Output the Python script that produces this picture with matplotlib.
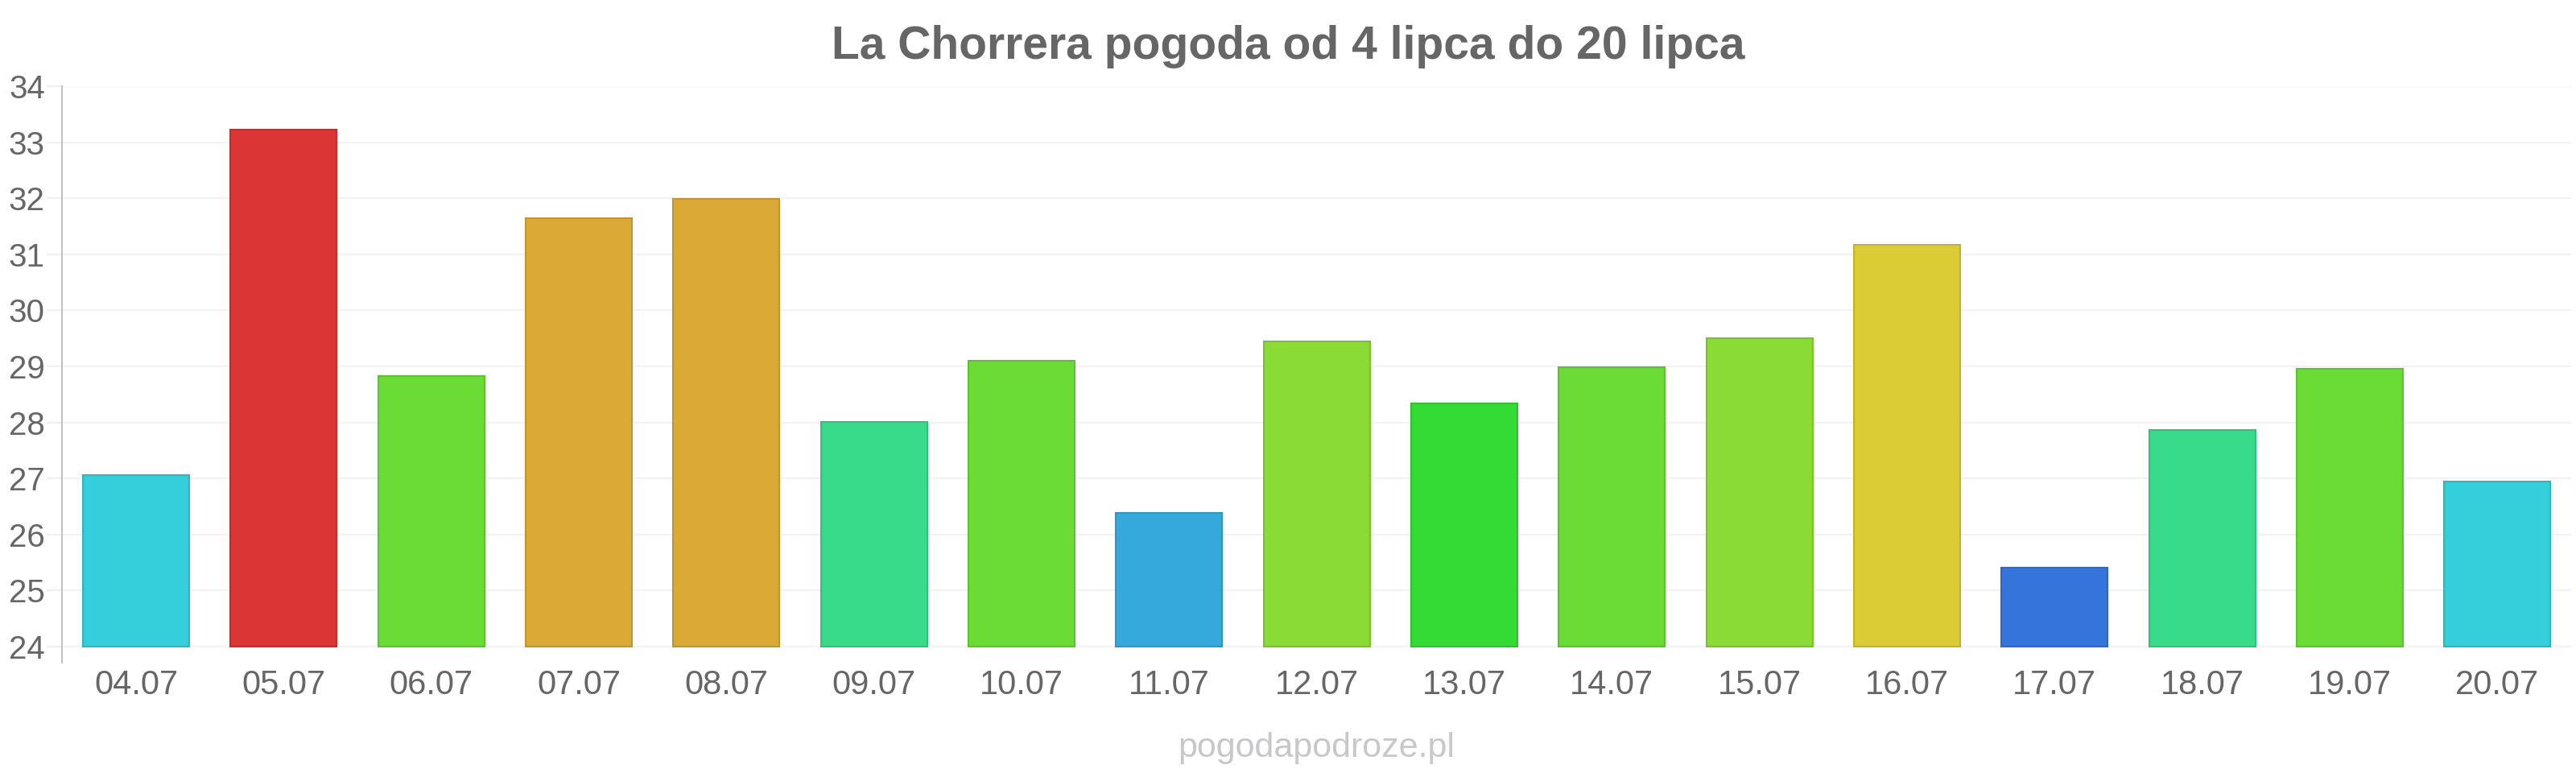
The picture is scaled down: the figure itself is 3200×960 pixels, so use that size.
import matplotlib
matplotlib.use("Agg")
import matplotlib.pyplot as plt
import matplotlib.colors as mcolors

plt.rcParams['font.family'] = ['Liberation Sans', 'DejaVu Sans']

title = "La Chorrera pogoda od 4 lipca do 20 lipca"
days = ["04.07", "05.07", "06.07", "07.07", "08.07", "09.07", "10.07", "11.07", "12.07",
        "13.07", "14.07", "15.07", "16.07", "17.07", "18.07", "19.07", "20.07"]
temps = [27.06, 33.22, 28.83, 31.64, 31.99, 28.01, 29.10, 26.38, 29.44,
         28.34, 28.98, 29.51, 31.17, 25.41, 27.87, 28.96, 26.95]
bar_colors = ["#35CEDB", "#DB3535", "#6BDB35", "#DBA935", "#DBA935", "#38DB8A", "#6BDB35",
              "#35A9DB", "#8ADB35", "#35DB35", "#6BDB35", "#8ADB35", "#DBCB35", "#3575DB",
              "#38DB8A", "#6BDB35", "#35CEDB"]
y_ticks = [24, 25, 26, 27, 28, 29, 30, 31, 32, 33, 34]
watermark = "pogodapodroze.pl"

W, H = 3200, 960
fig = plt.figure(figsize=(W / 100, H / 100), dpi=100)
ax = fig.add_axes([77.3 / W, 1 - 823 / H, (3194 - 77.3) / W, (823 - 107) / H])

def darker(c, f=0.88):
    r, g, b = mcolors.to_rgb(c)
    return (r * f, g * f, b * f)

x = list(range(len(days)))
base = y_ticks[0]
heights = [t - base for t in temps]
ax.bar(x, heights, bottom=base, width=0.72, color=bar_colors,
       edgecolor=[darker(c) for c in bar_colors], linewidth=1.5, zorder=3)

ax.set_xlim(-0.5, len(days) - 0.5)
ax.set_ylim(base - 20 / 69.6, y_ticks[-1])
ax.set_yticks(y_ticks)
ax.set_xticks(x)
ax.set_xticklabels(days)

ax.grid(axis='y', color='#f3f3f3', linewidth=1.6, zorder=0)
ax.grid(axis='x', visible=False)
for s in ['top', 'right', 'bottom']:
    ax.spines[s].set_visible(False)
ax.spines['left'].set_color('#bbbbbb')
ax.spines['left'].set_linewidth(1.3)

ax.tick_params(axis='y', length=14, width=1.6, color='#f0f0f0', pad=1.5,
               labelsize=29, labelcolor='#666666')
ax.tick_params(axis='x', length=0, pad=6, labelsize=30, labelcolor='#666666')

fig.text(0.5, 1 - 73 / H, title, ha='center', va='baseline', fontsize=41,
         fontweight='bold', color='#666666')
fig.text(1635 / W, 1 - 940 / H, watermark, ha='center', va='baseline', fontsize=31,
         color='#c8c8cc')

fig.savefig("out.png", dpi=100, facecolor='white')
